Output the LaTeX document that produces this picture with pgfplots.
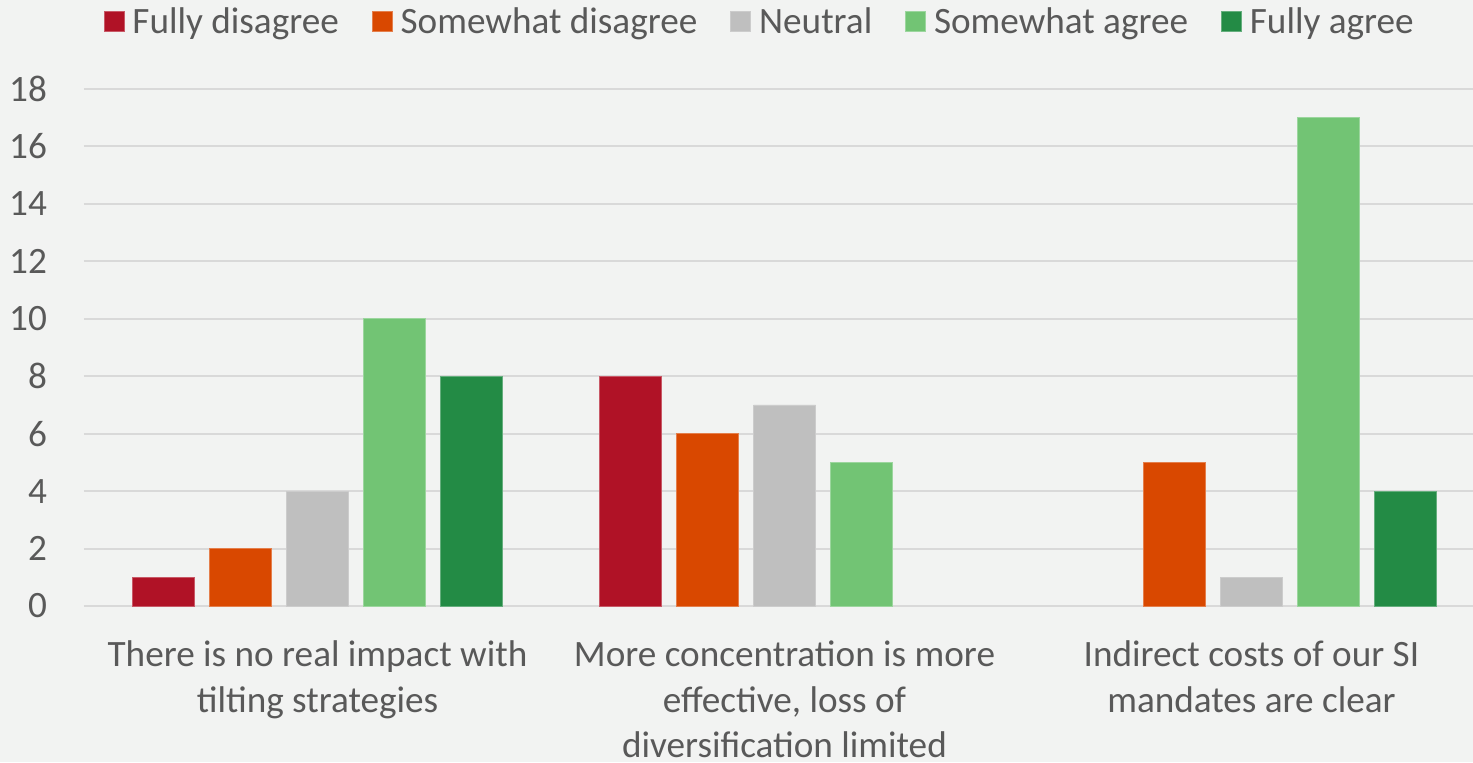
\documentclass[border=0pt]{standalone}
\usepackage{pgfplots}
\pgfplotsset{compat=1.18}
\usepackage{fontspec}
\setmainfont{Carlito}

\definecolor{bgcol}{HTML}{F2F3F2}
\definecolor{txtcol}{HTML}{595959}
\definecolor{gridcol}{HTML}{D9D9D9}
\definecolor{cFD}{HTML}{B01226}
\definecolor{cSD}{HTML}{D94800}
\definecolor{cN}{HTML}{BFBFBF}
\definecolor{cSA}{HTML}{72C474}
\definecolor{cFA}{HTML}{238B45}

\begin{document}
\begin{tikzpicture}
\path[use as bounding box, fill=bgcol] (0,0) rectangle (736.5pt,381pt);
\begin{axis}[
  at={(42pt,78pt)}, anchor=south west,
  scale only axis,
  width=700.5pt, height=258.5pt,
  ybar=7.5pt, bar width=31pt,
  xmin=-0.5, xmax=2.5,
  ymin=0, ymax=18,
  ytick={0,2,...,18},
  xtick={0,1,2},
  xticklabels={{There is no real impact with\\tilting strategies},
               {More concentration is more\\effective, loss of\\diversification limited},
               {Indirect costs of our SI\\mandates are clear}},
  axis line style={draw=none},
  major tick length=0pt,
  ymajorgrids,
  grid style={gridcol, line width=1pt},
  /pgf/number format/assume math mode=true,
  tick label style={text=txtcol, font=\fontsize{18.6}{22.8}\selectfont},
  yticklabel style={anchor=east, xshift=-15pt},
  xticklabel style={anchor=north, align=center, yshift=-14pt},
  legend style={draw=none, fill=none, at={(0.483,1.13)}, anchor=center,
    legend columns=5, text=txtcol, font=\fontsize{18.6}{22.8}\selectfont,
    /tikz/every odd column/.append style={column sep=2pt},
    /tikz/every even column/.append style={column sep=14.5pt}},
  legend image code/.code={\fill[#1] (0pt,-5pt) rectangle (10pt,5pt);},
  every axis plot/.append style={line width=0.4pt},
]
\addplot[fill=cFD, draw=cFD!70!white] coordinates {(0,1) (1,8)};
\addplot[fill=cSD, draw=cSD!70!white] coordinates {(0,2) (1,6) (2,5)};
\addplot[fill=cN, draw=cN!80!white] coordinates {(0,4) (1,7) (2,1)};
\addplot[fill=cSA, draw=cSA!70!white] coordinates {(0,10) (1,5) (2,17)};
\addplot[fill=cFA, draw=cFA!70!white] coordinates {(0,8) (2,4)};
\legend{Fully disagree, Somewhat disagree, Neutral, Somewhat agree, Fully agree}
\end{axis}
\end{tikzpicture}
\end{document}
